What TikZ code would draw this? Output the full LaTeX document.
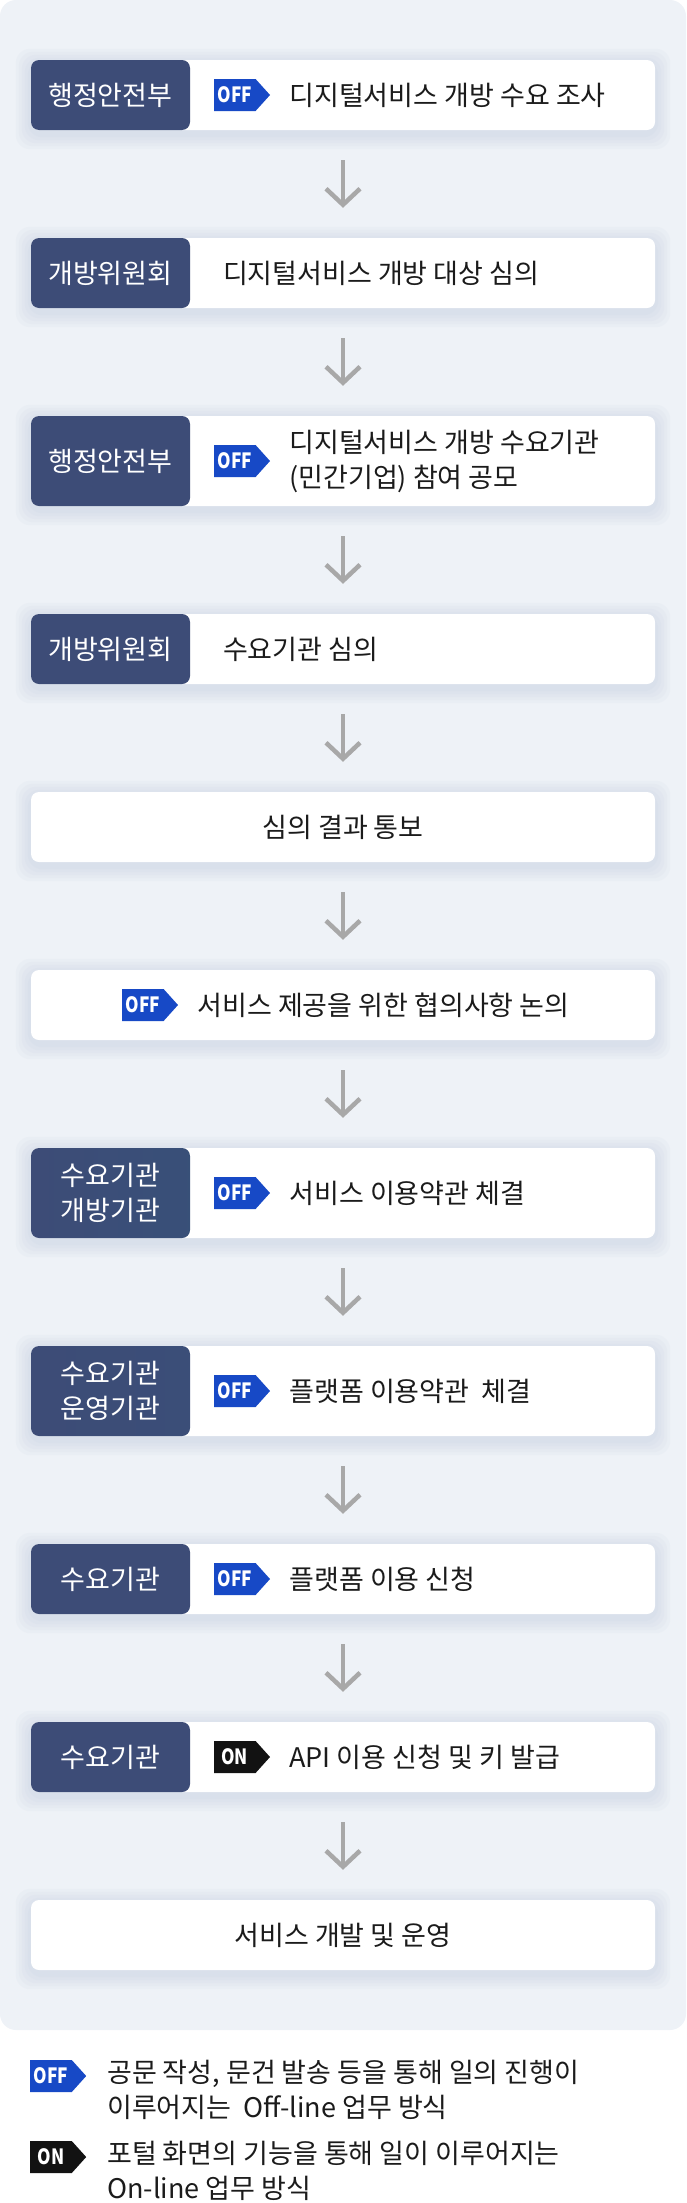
\documentclass[tikz,border=0pt]{standalone}
\usepackage{fontspec}
\setmainfont{Noto Sans CJK KR}
\newfontfamily\tagfont{Noto Sans CJK KR}[FakeStretch=0.82]
\usetikzlibrary{arrows.meta,positioning,shapes.symbols,backgrounds}
\definecolor{panelBg}{HTML}{EEF2F7}
\definecolor{cNavy}{HTML}{3D4C77}
\definecolor{cTeal}{HTML}{2B5A7C}
\definecolor{cSlate}{HTML}{34537A}
\definecolor{tOff}{HTML}{1749C6}
\definecolor{tOn}{HTML}{121212}
\definecolor{cArr}{HTML}{A8A8A8}
\definecolor{cShd}{HTML}{9DAECB}
\definecolor{cTxt}{HTML}{1B1B1B}
\newcommand{\cardfont}{\fontsize{27}{35}\selectfont}
\tikzset{
  card/.style={fill=white, rounded corners=8pt, minimum width=624pt, minimum height=#1, inner sep=0pt},
  card/.default=70pt,
  lab/.style={path picture={\path[#1] (path picture bounding box.north west) rectangle ([xshift=159pt]path picture bounding box.south west);}},
  labtxt/.style={text=white, font=\cardfont, align=center, inner sep=0pt},
  txt/.style={text=cTxt, font=\cardfont, align=left, inner sep=0pt},
  tag/.style={signal, signal to=east, signal pointer angle=96, fill=#1, text=white, font=\tagfont\bfseries\fontsize{21}{21}\selectfont, minimum width=56pt, minimum height=32pt, inner sep=0pt},
  arr/.style={draw=cArr, line width=4.5pt, shorten <=30pt, shorten >=30pt, -{Straight Barb[length=16pt,width=34pt]}},
}
\begin{document}
\begin{tikzpicture}[x=1pt,y=-1pt]
\useasboundingbox (0,0) rectangle (686,2203);
% ================= cards =================
\node[card, lab={fill=cNavy}] (c1) at (343,95) {};
\node[labtxt] (l1) at ([xshift=79.5pt]c1.west) {행정안전부};
\node[tag=tOff, anchor=west] (t1) at ([xshift=183pt]c1.west) {OFF};
\node[txt, right=19pt of t1] (x1) {디지털서비스 개방 수요 조사};
\node[card, lab={fill=cNavy}] (c2) at (343,273) {};
\node[labtxt] (l2) at ([xshift=79.5pt]c2.west) {개방위원회};
\node[txt, anchor=west] (x2) at ([xshift=192pt]c2.west) {디지털서비스 개방 대상 심의};
\node[card=90pt, lab={fill=cNavy}] (c3) at (343,461) {};
\node[labtxt] (l3) at ([xshift=79.5pt]c3.west) {행정안전부};
\node[tag=tOff, anchor=west] (t3) at ([xshift=183pt]c3.west) {OFF};
\node[txt, right=19pt of t3] (x3) {디지털서비스 개방 수요기관\\(민간기업) 참여 공모};
\node[card, lab={fill=cNavy}] (c4) at (343,649) {};
\node[labtxt] (l4) at ([xshift=79.5pt]c4.west) {개방위원회};
\node[txt, anchor=west] (x4) at ([xshift=192pt]c4.west) {수요기관 심의};
\node[card] (c5) at (343,827) {};
\node[txt] (x5) at (c5) {심의 결과 통보};
\node[card] (c6) at (343,1005) {};
\node[tag=tOff, anchor=west] (t6) at ([xshift=91pt]c6.west) {OFF};
\node[txt, right=19pt of t6] (x6) {서비스 제공을 위한 협의사항 논의};
\node[card=90pt, lab={left color=cNavy, right color=cTeal}] (c7) at (343,1193) {};
\node[labtxt] (l7) at ([xshift=79.5pt]c7.west) {수요기관\\개방기관};
\node[tag=tOff, anchor=west] (t7) at ([xshift=183pt]c7.west) {OFF};
\node[txt, right=19pt of t7] (x7) {서비스 이용약관 체결};
\node[card=90pt, lab={left color=cNavy, right color=cSlate}] (c8) at (343,1391) {};
\node[labtxt] (l8) at ([xshift=79.5pt]c8.west) {수요기관\\운영기관};
\node[tag=tOff, anchor=west] (t8) at ([xshift=183pt]c8.west) {OFF};
\node[txt, right=19pt of t8] (x8) {플랫폼 이용약관\ \ 체결};
\node[card, lab={fill=cNavy}] (c9) at (343,1579) {};
\node[labtxt] (l9) at ([xshift=79.5pt]c9.west) {수요기관};
\node[tag=tOff, anchor=west] (t9) at ([xshift=183pt]c9.west) {OFF};
\node[txt, right=19pt of t9] (x9) {플랫폼 이용 신청};
\node[card, lab={fill=cNavy}] (c10) at (343,1757) {};
\node[labtxt] (l10) at ([xshift=79.5pt]c10.west) {수요기관};
\node[tag=tOn, anchor=west] (t10) at ([xshift=183pt]c10.west) {ON};
\node[txt, right=19pt of t10] (x10) {API 이용 신청 및 키 발급};
\node[card] (c11) at (343,1935) {};
\node[txt] (x11) at (c11) {서비스 개발 및 운영};
% ================= arrows =================
\foreach \a/\b in {1/2,2/3,3/4,4/5,5/6,6/7,7/8,8/9,9/10,10/11}{\draw[arr] (c\a) -- (c\b);}
% ================= panel and shadows =================
\begin{scope}[on background layer]
\fill[panelBg, rounded corners=16pt] (0,0) rectangle (686,2030);
\foreach \i in {1,...,11}{
  \foreach \s [evaluate=\s as \u using \s-4, evaluate=\s as \d using -\s-4] in {3,6,...,15}{
    \fill[cShd, fill opacity=0.05, rounded corners=14pt] ([shift={(-\s pt,\u pt)}]c\i.north west) rectangle ([shift={(\s pt,\d pt)}]c\i.south east);}}
\end{scope}
% ================= legend =================
\node[tag=tOff, anchor=west] (k1) at (30,2076) {OFF};
\node[txt, anchor=west] (kx1) at (107,2090) {공문 작성, 문건 발송 등을 통해 일의 진행이\\이루어지는\ \ Off-line 업무 방식};
\node[tag=tOn, anchor=west] (k2) at (30,2157) {ON};
\node[txt, anchor=west] (kx2) at (107,2170.5) {포털 화면의 기능을 통해 일이 이루어지는\\On-line 업무 방식};
\end{tikzpicture}
\end{document}
